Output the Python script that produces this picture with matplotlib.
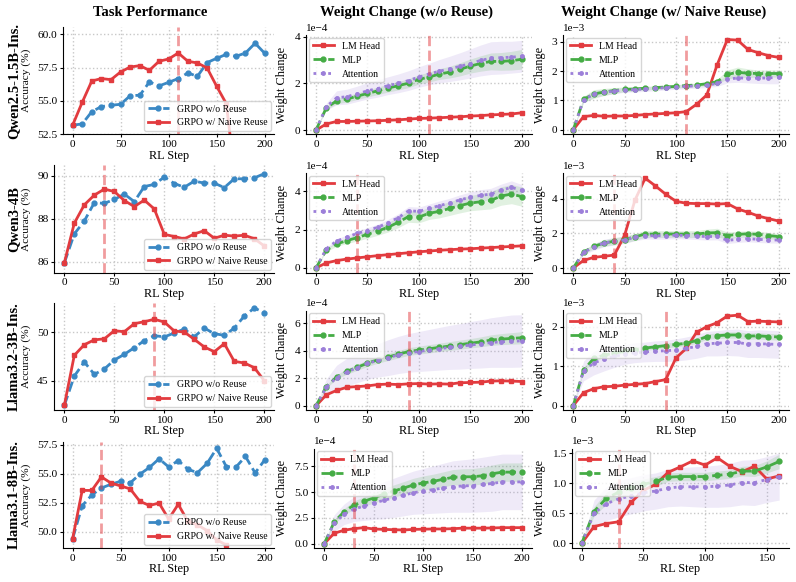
import matplotlib
matplotlib.use('Agg')
import matplotlib.pyplot as plt
from matplotlib.ticker import MultipleLocator
import numpy as np

plt.rcParams['font.family'] = ['Liberation Serif', 'DejaVu Serif']
plt.rcParams['axes.unicode_minus'] = True

# ---------------- data ----------------
steps = list(range(0, 201, 10))
steps_160 = list(range(0, 161, 10))

model_names = ["Qwen2.5-1.5B-Ins.", "Qwen3-4B", "Llama3.2-3B-Ins.", "Llama3.1-8B-Ins."]
reuse_steps = [110, 40, 90, 30]
col_titles = ["Task Performance", "Weight Change (w/o Reuse)", "Weight Change (w/ Naive Reuse)"]

# Task performance (accuracy %)
q15_acc_base = [53.18, 53.28, 54.2, 54.58, 54.68, 54.75, 55.4, 55.43, 56.43, 56.13, 56.4,
                56.68, 57.1, 56.85, 57.88, 58.2, 58.5, 58.35, 58.6, 59.33, 58.58]
q15_acc_reuse = [53.18, 54.9, 56.5, 56.68, 56.6, 57.18, 57.55, 57.65, 57.3, 57.98, 58.15,
                 58.6, 57.98, 57.85, 57.48, 56.1, 54.8, 48.8, 47.5, 47.0, 46.5]
q3_acc_base = [85.95, 87.3, 87.9, 88.75, 88.72, 88.9, 89.15, 88.8, 89.5, 89.6, 89.94,
               89.64, 89.47, 89.75, 89.66, 89.66, 89.45, 89.86, 89.86, 89.9, 90.1]
q3_acc_reuse = [85.95, 87.8, 88.65, 89.1, 89.38, 89.27, 88.85, 88.57, 88.87, 88.46, 87.28,
                87.18, 87.07, 87.3, 87.45, 87.1, 87.24, 87.2, 87.24, 87.08, 86.74]
l3_acc_base = [42.5, 45.5, 46.94, 45.68, 46.22, 47.14, 47.72, 48.4, 49.12, 49.63, 49.5,
               49.9, 50.3, 49.52, 50.4, 49.83, 49.66, 50.4, 51.63, 52.45, 51.97]
l3_acc_reuse = [42.5, 47.62, 48.7, 49.2, 49.3, 50.13, 50.03, 50.85, 51.05, 51.3, 51.02,
                50.1, 50.0, 49.25, 48.47, 47.99, 48.81, 47.0, 46.84, 46.36, 45.03]
l8_acc_base = [49.4, 52.25, 53.18, 53.78, 54.1, 54.36, 54.22, 54.97, 55.55, 56.3, 55.6,
               56.15, 55.4, 55.1, 55.9, 57.2, 55.63, 55.58, 56.5, 55.08, 56.2]
l8_acc_reuse = [49.4, 53.57, 53.57, 54.74, 54.2, 53.96, 53.7, 52.63, 52.27, 52.48, 51.1,
                52.37, 50.9, 50.6, 50.1, 49.3, 48.86]

# Weight change w/o reuse (units of 1e-4)
q15_wc_lm = [0, 0.26, 0.37, 0.37, 0.38, 0.39, 0.40, 0.42, 0.44, 0.47, 0.50, 0.51, 0.53, 0.55, 0.57, 0.60, 0.62, 0.65, 0.67, 0.69, 0.74]
q15_wc_mlp = [0, 0.95, 1.25, 1.33, 1.45, 1.57, 1.68, 1.80, 1.90, 2.01, 2.17, 2.27, 2.40, 2.48, 2.60, 2.74, 2.85, 2.94, 2.94, 2.97, 3.03]
q15_wc_mlp_sd = [0, 0.08, 0.12, 0.13, 0.14, 0.15, 0.16, 0.17, 0.18, 0.19, 0.2, 0.21, 0.23, 0.25, 0.28, 0.3, 0.33, 0.36, 0.38, 0.4, 0.42]
q15_wc_attn = [0, 1.00, 1.38, 1.43, 1.55, 1.68, 1.78, 1.90, 2.00, 2.12, 2.27, 2.40, 2.52, 2.62, 2.73, 2.85, 2.98, 3.08, 3.10, 3.12, 3.16]
q15_wc_attn_sd = [0, 0.15, 0.3, 0.32, 0.33, 0.35, 0.37, 0.38, 0.4, 0.42, 0.44, 0.46, 0.5, 0.54, 0.58, 0.62, 0.66, 0.7, 0.7, 0.68, 0.68]

q3_wc_lm = [0, 0.26, 0.38, 0.46, 0.52, 0.58, 0.64, 0.69, 0.74, 0.79, 0.84, 0.88, 0.92, 0.95, 0.98, 1.0, 1.03, 1.06, 1.09, 1.12, 1.15]
q3_wc_mlp = [0, 0.92, 1.25, 1.42, 1.58, 1.75, 1.92, 2.12, 2.38, 2.68, 2.65, 2.85, 2.95, 3.1, 3.25, 3.38, 3.45, 3.52, 3.75, 3.85, 3.72]
q3_wc_mlp_sd = [0, 0.08, 0.12, 0.15, 0.18, 0.2, 0.22, 0.25, 0.28, 0.3, 0.3, 0.32, 0.34, 0.36, 0.38, 0.4, 0.42, 0.44, 0.48, 0.5, 0.5]
q3_wc_attn = [0, 1.0, 1.4, 1.6, 1.8, 1.95, 2.12, 2.35, 2.62, 2.98, 2.95, 3.1, 3.25, 3.38, 3.55, 3.68, 3.78, 3.85, 4.05, 4.2, 4.05]
q3_wc_attn_sd = [0, 0.06, 0.1, 0.12, 0.14, 0.15, 0.16, 0.18, 0.2, 0.22, 0.22, 0.23, 0.24, 0.25, 0.26, 0.28, 0.3, 0.3, 0.32, 0.34, 0.3]

l3_wc_lm = [0, 0.8, 1.12, 1.35, 1.4, 1.45, 1.55, 1.58, 1.55, 1.6, 1.62, 1.58, 1.6, 1.58, 1.68, 1.7, 1.72, 1.8, 1.82, 1.8, 1.77]
l3_wc_mlp = [0, 1.4, 2.1, 2.5, 2.8, 3.1, 3.35, 3.55, 3.75, 3.95, 4.05, 4.15, 4.25, 4.35, 4.45, 4.55, 4.65, 4.78, 4.85, 4.9, 4.95]
l3_wc_mlp_sd = [0, 0.1, 0.15, 0.2, 0.22, 0.24, 0.25, 0.26, 0.27, 0.28, 0.29, 0.3, 0.31, 0.32, 0.33, 0.34, 0.36, 0.38, 0.4, 0.42, 0.44]
l3_wc_attn = [0, 1.35, 2.05, 2.45, 2.78, 3.08, 3.3, 3.5, 3.7, 3.85, 3.95, 4.05, 4.15, 4.25, 4.32, 4.42, 4.5, 4.6, 4.65, 4.7, 4.72]
l3_wc_attn_sd = [0, 0.6, 0.9, 1.0, 1.1, 1.15, 1.2, 1.3, 1.35, 1.4, 1.45, 1.5, 1.55, 1.6, 1.65, 1.7, 1.75, 1.8, 1.85, 1.9, 1.9]

l8_wc_lm = [0, 1.0, 1.3, 1.45, 1.55, 1.42, 1.38, 1.35, 1.32, 1.38, 1.4, 1.42, 1.42, 1.45, 1.5, 1.5, 1.5, 1.52, 1.55, 1.55, 1.55]
l8_wc_mlp = [0, 2.1, 3.1, 3.75, 4.1, 4.45, 4.8, 5.1, 5.4, 5.7, 5.9, 6.05, 6.25, 6.45, 6.5, 6.5, 6.6, 6.8, 6.95, 6.95, 6.95]
l8_wc_mlp_sd = [0, 0.2, 0.3, 0.4, 0.45, 0.5, 0.55, 0.6, 0.62, 0.65, 0.68, 0.7, 0.72, 0.75, 0.78, 0.8, 0.82, 0.85, 0.88, 0.9, 0.9]
l8_wc_attn = [0, 2.0, 2.85, 3.35, 3.65, 3.95, 4.2, 4.45, 4.7, 4.95, 5.1, 5.25, 5.4, 5.55, 5.6, 5.65, 5.75, 5.85, 6.0, 6.0, 6.0]
l8_wc_attn_sd = [0, 0.8, 1.0, 1.2, 1.4, 1.6, 1.8, 1.9, 2.0, 2.1, 2.2, 2.3, 2.4, 2.5, 2.55, 2.6, 2.65, 2.7, 2.7, 2.7, 2.7]

# Weight change w/ naive reuse (units of 1e-3)
q15_nr_lm = [0, 0.45, 0.49, 0.46, 0.47, 0.47, 0.49, 0.52, 0.54, 0.56, 0.58, 0.62, 0.87, 1.19, 2.21, 3.08, 3.06, 2.74, 2.63, 2.53, 2.47]
q15_nr_mlp = [0, 1.04, 1.22, 1.29, 1.34, 1.38, 1.39, 1.42, 1.44, 1.46, 1.48, 1.51, 1.53, 1.57, 1.64, 1.89, 1.96, 1.93, 1.92, 1.92, 1.92]
q15_nr_mlp_sd = [0, 0.1, 0.15, 0.12, 0.1, 0.08, 0.07, 0.06, 0.06, 0.06, 0.06, 0.06, 0.06, 0.06, 0.08, 0.15, 0.18, 0.15, 0.12, 0.12, 0.12]
q15_nr_attn = [0, 1.02, 1.22, 1.28, 1.32, 1.36, 1.37, 1.39, 1.41, 1.44, 1.46, 1.48, 1.50, 1.52, 1.58, 1.72, 1.77, 1.76, 1.76, 1.77, 1.79]
q15_nr_attn_sd = [0, 0.1, 0.12, 0.1, 0.09, 0.08, 0.08, 0.08, 0.08, 0.08, 0.08, 0.08, 0.08, 0.08, 0.1, 0.12, 0.15, 0.16, 0.18, 0.2, 0.22]

q3_nr_lm = [0, 0.44, 0.62, 0.68, 0.75, 1.9, 3.92, 5.2, 4.75, 4.27, 3.86, 3.75, 3.73, 3.73, 3.7, 3.73, 3.42, 3.23, 3.01, 2.86, 2.72]
q3_nr_mlp = [0, 0.93, 1.25, 1.45, 1.55, 1.65, 1.8, 1.97, 1.96, 1.97, 1.97, 1.96, 1.97, 2.03, 2.05, 1.88, 1.95, 1.98, 1.95, 1.88, 1.82]
q3_nr_mlp_sd = [0, 0.1, 0.15, 0.18, 0.2, 0.2, 0.2, 0.2, 0.2, 0.2, 0.2, 0.2, 0.2, 0.22, 0.25, 0.2, 0.18, 0.18, 0.18, 0.18, 0.18]
q3_nr_attn = [0, 0.9, 1.22, 1.45, 1.55, 1.62, 1.78, 1.88, 1.87, 1.87, 1.9, 1.88, 1.85, 1.82, 1.83, 1.6, 1.66, 1.7, 1.66, 1.63, 1.62]
q3_nr_attn_sd = [0, 0.12, 0.2, 0.22, 0.22, 0.2, 0.2, 0.2, 0.2, 0.2, 0.2, 0.2, 0.2, 0.2, 0.2, 0.18, 0.18, 0.18, 0.18, 0.18, 0.18]

l3_nr_lm = [0, 0.33, 0.43, 0.48, 0.49, 0.52, 0.54, 0.56, 0.61, 0.66, 1.21, 1.45, 1.86, 2.0, 2.1, 2.27, 2.29, 2.13, 2.14, 2.13, 2.12]
l3_nr_mlp = [0, 0.9, 1.2, 1.28, 1.33, 1.38, 1.42, 1.46, 1.49, 1.52, 1.55, 1.58, 1.65, 1.75, 1.77, 1.79, 1.79, 1.76, 1.77, 1.75, 1.74]
l3_nr_mlp_sd = [0, 0.05, 0.06, 0.06, 0.06, 0.06, 0.06, 0.06, 0.06, 0.06, 0.06, 0.06, 0.07, 0.07, 0.07, 0.08, 0.08, 0.08, 0.08, 0.08, 0.08]
l3_nr_attn = [0, 0.88, 1.08, 1.18, 1.25, 1.3, 1.34, 1.36, 1.38, 1.39, 1.41, 1.45, 1.5, 1.57, 1.58, 1.6, 1.6, 1.56, 1.57, 1.56, 1.55]
l3_nr_attn_sd = [0, 0.25, 0.3, 0.3, 0.28, 0.25, 0.25, 0.25, 0.26, 0.27, 0.28, 0.29, 0.3, 0.31, 0.32, 0.33, 0.34, 0.34, 0.35, 0.35, 0.35]

l8_nr_lm = [0, 0.28, 0.33, 0.36, 0.68, 0.88, 0.98, 1.18, 1.27, 1.37, 1.3, 1.42, 1.28, 1.19, 1.28, 1.07, 1.12]
l8_nr_mlp = [0, 0.53, 0.75, 0.85, 0.92, 0.98, 1.03, 1.1, 1.11, 1.11, 1.11, 1.13, 1.15, 1.2, 1.2, 1.27, 1.36]
l8_nr_mlp_sd = [0, 0.08, 0.1, 0.1, 0.1, 0.09, 0.08, 0.07, 0.07, 0.07, 0.07, 0.07, 0.07, 0.08, 0.09, 0.1, 0.12]
l8_nr_attn = [0, 0.5, 0.66, 0.74, 0.79, 0.84, 0.87, 0.92, 0.94, 0.94, 0.94, 0.95, 0.97, 1.01, 1.01, 1.06, 1.11]
l8_nr_attn_sd = [0, 0.22, 0.28, 0.3, 0.3, 0.3, 0.3, 0.31, 0.32, 0.33, 0.34, 0.35, 0.36, 0.37, 0.38, 0.38, 0.39]

# ---------------- style ----------------
C_BLUE = '#3a88c4'
C_RED = '#e23b3f'
C_GREEN = '#45ac45'
C_PURPLE = '#9c7fd9'

W, H = 796, 582
fig = plt.figure(figsize=(W / 100, H / 100), dpi=100)

col1_left = [63, 54.3, 54.3, 63]
col2_left = [305.7, 305.7, 305.7, 314.4]
col3_left = [563, 563, 563, 571.8]
rights = [274.3, 532, 789]
tops_c1 = [27, 165, 303, 442]
tops_c23 = [35, 173, 310.5, 448.5]
bottoms = [134.3, 272.7, 410, 548]


def make_ax(l, r, t, b):
    return fig.add_axes([l / W, 1 - b / H, (r - l) / W, (b - t) / H])


def style_ax(ax):
    for s in ['top', 'right']:
        ax.spines[s].set_visible(False)
    ax.grid(True, linestyle=':', color='#c8c8c8', linewidth=1.0)
    ax.set_axisbelow(True)
    ax.tick_params(axis='both', labelsize=8.2, length=2.5, pad=1.5)
    ax.set_xlabel('RL Step', fontsize=8.8, labelpad=0.5)


def perf_panel(ax, base, reuse_x, reuse, vline, ylim, ystep):
    ax.plot(steps, base, '--o', color=C_BLUE, lw=2, ms=3.5, label='GRPO w/o Reuse')
    ax.plot(reuse_x, reuse, '-s', color=C_RED, lw=2, ms=3.5, label='GRPO w/ Naive Reuse')
    ax.axvline(vline, color=C_RED, alpha=0.5, lw=2, ls='--')
    ax.set_xlim(-10, 210)
    ax.set_ylim(*ylim)
    ax.yaxis.set_major_locator(MultipleLocator(ystep))
    style_ax(ax)
    ax.set_ylabel('Accuracy (%)', fontsize=8.2)
    ax.legend(loc='lower right', fontsize=7, borderaxespad=0.3, handlelength=2.2)


def wc_panel(ax, x, lm, mlp, mlp_sd, attn, attn_sd, scale, vline, ylim, ystep, xmax):
    x = np.asarray(x)
    lm = np.asarray(lm) * scale
    mlp = np.asarray(mlp) * scale
    attn = np.asarray(attn) * scale
    mlp_sd = np.asarray(mlp_sd) * scale
    attn_sd = np.asarray(attn_sd) * scale
    ax.fill_between(x, attn - attn_sd, attn + attn_sd, color=C_PURPLE, alpha=0.16, lw=0)
    ax.fill_between(x, mlp - mlp_sd, mlp + mlp_sd, color=C_GREEN, alpha=0.16, lw=0)
    ax.plot(x, lm, '-s', color=C_RED, lw=2, ms=3.5, label='LM Head')
    ax.plot(x, mlp, '--o', color=C_GREEN, lw=2, ms=3.5, label='MLP')
    ax.plot(x, attn, ':o', color=C_PURPLE, lw=2, ms=2.5, label='Attention')
    ax.axvline(vline, color=C_RED, alpha=0.5, lw=2, ls='--')
    ax.set_xlim(-xmax * 0.05, xmax * 1.05)
    ax.set_ylim(ylim[0] * scale, ylim[1] * scale)
    ax.yaxis.set_major_locator(MultipleLocator(ystep * scale))
    ax.ticklabel_format(axis='y', style='sci', scilimits=(0, 0))
    style_ax(ax)
    ax.yaxis.get_offset_text().set_fontsize(8)
    ax.set_ylabel('Weight Change', fontsize=8.8)
    ax.legend(loc='upper left', fontsize=7, borderaxespad=0.3, handlelength=2.2)


perf_data = [
    (q15_acc_base, steps, q15_acc_reuse, (52.5, 60.55), 2.5),
    (q3_acc_base, steps, q3_acc_reuse, (85.5, 90.5), 2),
    (l3_acc_base, steps, l3_acc_reuse, (42.04, 52.96), 5),
    (l8_acc_base, steps_160, l8_acc_reuse, (48.6, 57.75), 2.5),
]
wc_data = [
    (steps, q15_wc_lm, q15_wc_mlp, q15_wc_mlp_sd, q15_wc_attn, q15_wc_attn_sd, (-0.18, 4.07), 2),
    (steps, q3_wc_lm, q3_wc_mlp, q3_wc_mlp_sd, q3_wc_attn, q3_wc_attn_sd, (-0.25, 4.95), 2),
    (steps, l3_wc_lm, l3_wc_mlp, l3_wc_mlp_sd, l3_wc_attn, l3_wc_attn_sd, (-0.3, 6.93), 2),
    (steps, l8_wc_lm, l8_wc_mlp, l8_wc_mlp_sd, l8_wc_attn, l8_wc_attn_sd, (-0.43, 9.25), 2.5),
]
nr_data = [
    (steps, q15_nr_lm, q15_nr_mlp, q15_nr_mlp_sd, q15_nr_attn, q15_nr_attn_sd, (-0.154, 3.234), 1),
    (steps, q3_nr_lm, q3_nr_mlp, q3_nr_mlp_sd, q3_nr_attn, q3_nr_attn_sd, (-0.27, 5.5), 2),
    (steps, l3_nr_lm, l3_nr_mlp, l3_nr_mlp_sd, l3_nr_attn, l3_nr_attn_sd, (-0.11, 2.41), 1),
    (steps_160, l8_nr_lm, l8_nr_mlp, l8_nr_mlp_sd, l8_nr_attn, l8_nr_attn_sd, (-0.075, 1.575), 0.5),
]

for i in range(4):
    ax1 = make_ax(col1_left[i], rights[0], tops_c1[i], bottoms[i])
    b, rx, r, yl, ys = perf_data[i]
    perf_panel(ax1, b, rx, r, reuse_steps[i], yl, ys)
    ax1.yaxis.set_label_coords((31 - col1_left[i]) / (rights[0] - col1_left[i]), 0.5)

    ax2 = make_ax(col2_left[i], rights[1], tops_c23[i], bottoms[i])
    x, lm, mlp, msd, at, asd, yl, ys = wc_data[i]
    wc_panel(ax2, x, lm, mlp, msd, at, asd, 1e-4, reuse_steps[i], yl, ys, 200)
    ax2.yaxis.set_label_coords((288.5 - col2_left[i]) / (rights[1] - col2_left[i]), 0.5)

    ax3 = make_ax(col3_left[i], rights[2], tops_c23[i], bottoms[i])
    x, lm, mlp, msd, at, asd, yl, ys = nr_data[i]
    wc_panel(ax3, x, lm, mlp, msd, at, asd, 1e-3, reuse_steps[i], yl, ys, max(x))
    ax3.yaxis.set_label_coords((545.5 - col3_left[i]) / (rights[2] - col3_left[i]), 0.5)

    yc = (tops_c1[i] + bottoms[i]) / 2
    fig.text(14 / W, 1 - yc / H, model_names[i], rotation=90, ha='center', va='center',
             fontsize=10.5, fontweight='bold')

for cx, t in zip([150, 406, 664], col_titles):
    fig.text(cx / W, 1 - 12 / H, t, ha='center', va='center', fontsize=10.5, fontweight='bold')

fig.savefig('out.png', dpi=100)
